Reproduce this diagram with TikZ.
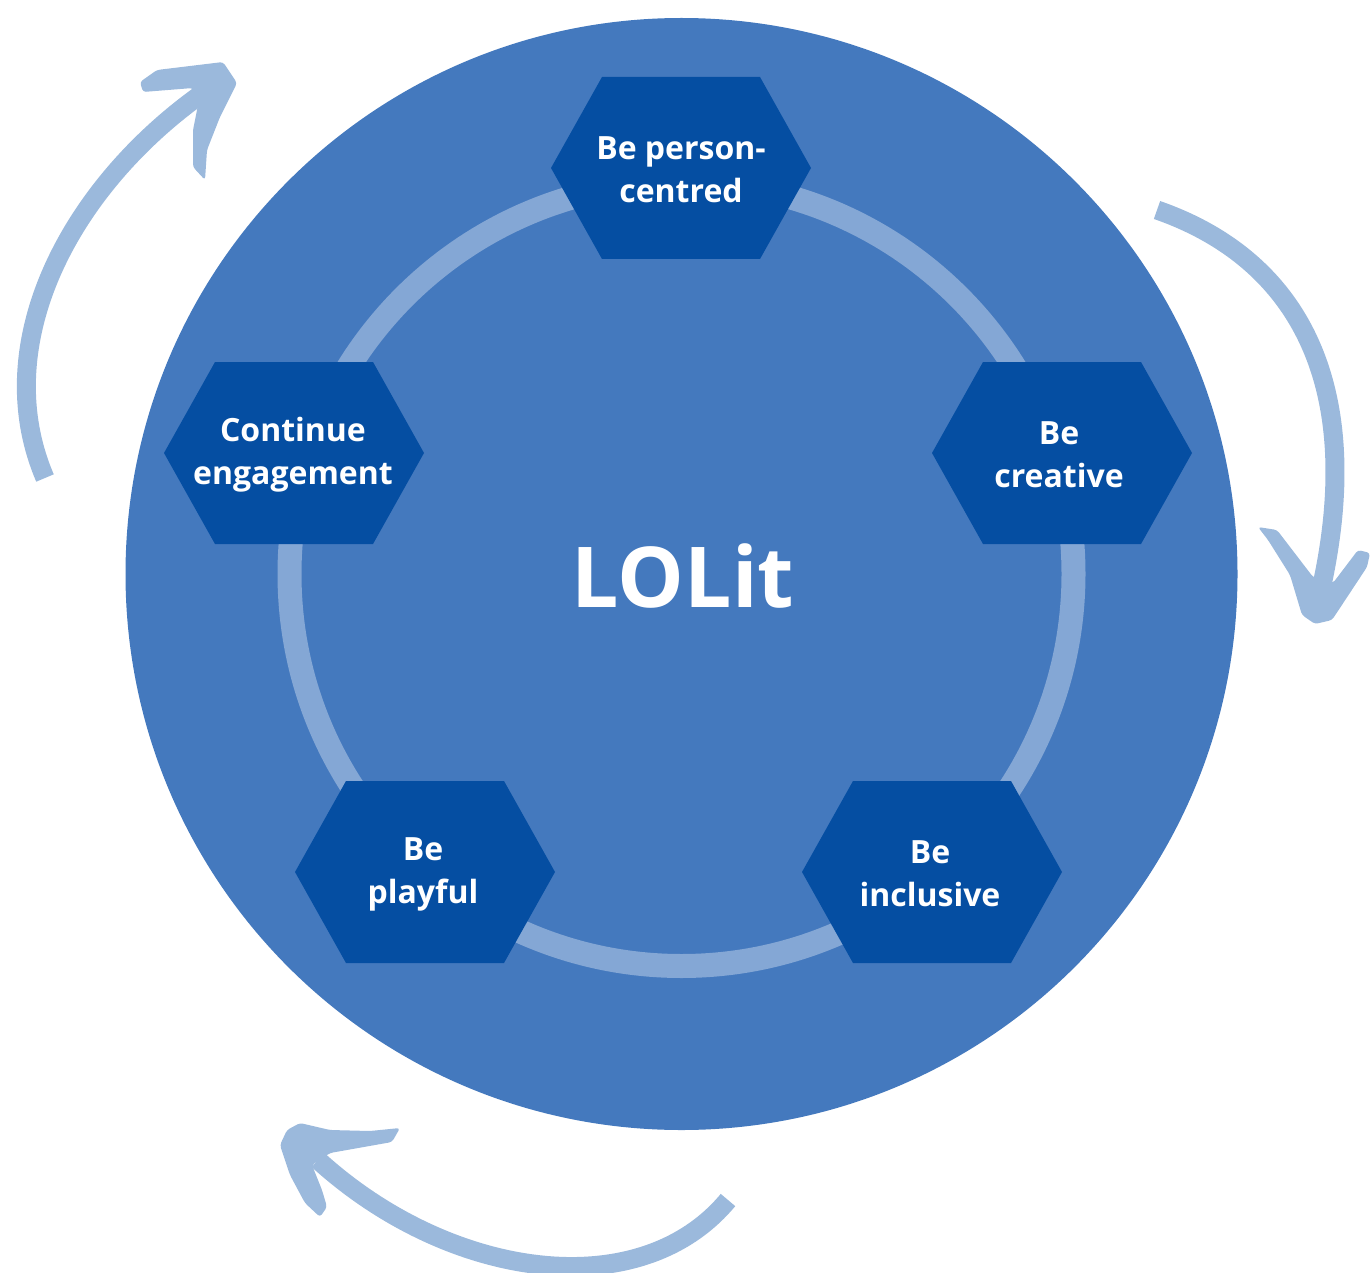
\documentclass[tikz,border=0pt]{standalone}
\usepackage{fontspec}
\setmainfont{Open Sans}
\begin{document}
\begin{tikzpicture}[x=1pt,y=-1pt,
  disc/.style={fill=outerblue},
  ringline/.style={draw=ringblue,line width=24pt},
  hexfill/.style={fill=hexblue},
  hexlabel/.style={text=white,align=center,font=\bfseries\fontsize{32}{43}\selectfont},
  shaft/.style={draw=arrowblue,line width=19pt,line cap=butt},
  head/.style={fill=arrowblue,rounded corners=3pt}]
\definecolor{outerblue}{HTML}{4479BE}
\definecolor{hexblue}{HTML}{054EA2}
\definecolor{ringblue}{HTML}{84A7D5}
\definecolor{arrowblue}{HTML}{9BB9DC}
\useasboundingbox (0,0) rectangle (1370,1273);

% main disc and inner ring
\coordinate (O) at (681.5,574);
\fill[disc] (O) circle[radius=556pt];
\draw[ringline] (O) circle[radius=392pt];

% hexagon centres
\coordinate (h1) at (681,168);
\coordinate (h2) at (1062,453);
\coordinate (h3) at (932,872);
\coordinate (h4) at (425,872);
\coordinate (h5) at (294,453);
\foreach \c in {h1,h2,h3,h4,h5}{
  \fill[hexfill] (\c) +(-130,0) -- +(-79,-91) -- +(79,-91) -- +(130,0) -- +(79,91) -- +(-79,91) -- cycle;
}
\node[hexlabel] (person) at ([yshift=-2]h1) {Be person-\\centred};
\node[hexlabel] (creative) at ([xshift=-3,yshift=-2]h2) {Be\\creative};
\node[hexlabel] (inclusive) at ([xshift=-2,yshift=-2]h3) {Be\\inclusive};
\node[hexlabel] (playful) at ([xshift=-2,yshift=-2]h4) {Be\\playful};
\node[hexlabel] (engage) at ([xshift=-1,yshift=-2]h5) {Continue\\engagement};

\node[text=white,font=\bfseries\fontsize{84}{90}\selectfont] (lolit) at (683,576) {LOLit};

% curved arrows around the disc
% upper left
\coordinate (a1s) at (45,478);
\coordinate (a1e) at (200,95);
\draw[shaft] (a1s) .. controls (-12,345) and (68,190) .. (a1e);
\fill[head] (140,82) -- (157,70) -- (223,62) -- (237,83) -- (220,117) -- (207,150) -- (205,180)
  -- (193,167) -- (193,130) -- (198,105) -- (193,88) -- (143,92) -- cycle;
% right
\coordinate (a2s) at (1157,210);
\coordinate (a2e) at (1322,585);
\draw[shaft] (a2s) .. controls (1295,258) and (1366,380) .. (a2e);
\fill[head] (1258,527) -- (1277,530) -- (1313,577) -- (1333,583) -- (1358,550) -- (1370,553)
  -- (1367,567) -- (1332,620) -- (1315,624) -- (1302,615) -- (1290,575) -- (1268,540) -- cycle;
% bottom
\coordinate (a3s) at (728,1200);
\coordinate (a3e) at (318,1160);
\draw[shaft] (a3s) .. controls (640,1306) and (450,1280) .. (a3e);
\fill[head] (400,1128) -- (392,1142) -- (330,1153) -- (312,1165) -- (322,1190) -- (327,1207)
  -- (320,1217) -- (305,1203) -- (290,1175) -- (280,1145) -- (287,1130) -- (300,1123)
  -- (330,1130) -- (370,1131) -- cycle;
\end{tikzpicture}
\end{document}
